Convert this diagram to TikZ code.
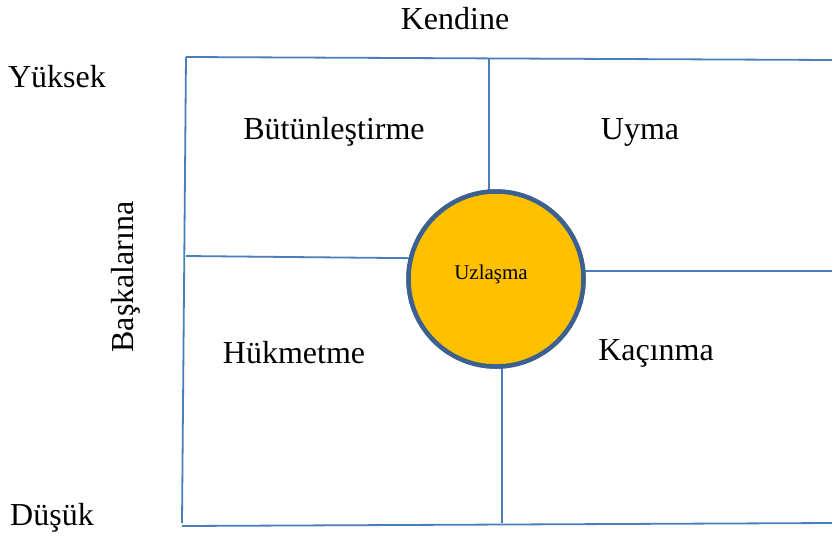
\documentclass[tikz,border=0pt]{standalone}
\usepackage{fontspec}
\setmainfont{Liberation Serif}
\definecolor{gridblue}{HTML}{4A7EBB}
\definecolor{ringblue}{HTML}{3C6190}
\definecolor{fillgold}{HTML}{FFC000}
\begin{document}
\begin{tikzpicture}[x=1pt,y=-1pt,
  gridline/.style={draw=gridblue,line width=1.8pt},
  lbl/.style={inner sep=0pt,font=\fontsize{32}{36}\selectfont},
  ring/.style={circle,draw=ringblue,line width=4.5pt,fill=fillgold,minimum size=175pt,inner sep=0pt}]
\useasboundingbox[fill=white] (0,0) rectangle (832,536);
% frame coordinates
\coordinate (tl) at (186,57);
\coordinate (tr) at (832,60);
\coordinate (bl) at (182,526);
\coordinate (br) at (832,523);
\coordinate (lb) at (182,523);
\coordinate (mt) at (489,59);
\coordinate (mb) at (502,523);
\coordinate (ml) at (186,256);
\coordinate (mr) at (832,271);
\node[ring] (c) at (496,279) {};
% lines
\draw[gridline] (tl) -- (tr);
\draw[gridline] (tl) -- (lb);
\draw[gridline] (bl) -- (br);
\draw[gridline] (mt) -- (mt |- c.center);
\draw[gridline] (mb) -- (mb |- c.center);
\draw[gridline] (ml) -- ([yshift=20pt]c.center);
\draw[gridline] (mr) -- (c.center |- mr);
% circle on top
\node[ring] (c2) at (c.center) {};
\node[inner sep=0pt,font=\fontsize{21}{25}\selectfont] (uz) at (491,274) {Uzlaşma};
% labels
\node[lbl] (ken) at (455,19) {Kendine};
\node[lbl] (yuk) at (57,77) {Yüksek};
\node[lbl] (dus) at (52,518) {Düşük};
\node[lbl,rotate=90] (bas) at (126,277) {Başkalarına};
\node[lbl] (but) at (334,132) {Bütünleştirme};
\node[lbl] (uym) at (640,132) {Uyma};
\node[lbl] (huk) at (294,353) {Hükmetme};
\node[lbl] (kac) at (656,353) {Kaçınma};
\end{tikzpicture}
\end{document}
